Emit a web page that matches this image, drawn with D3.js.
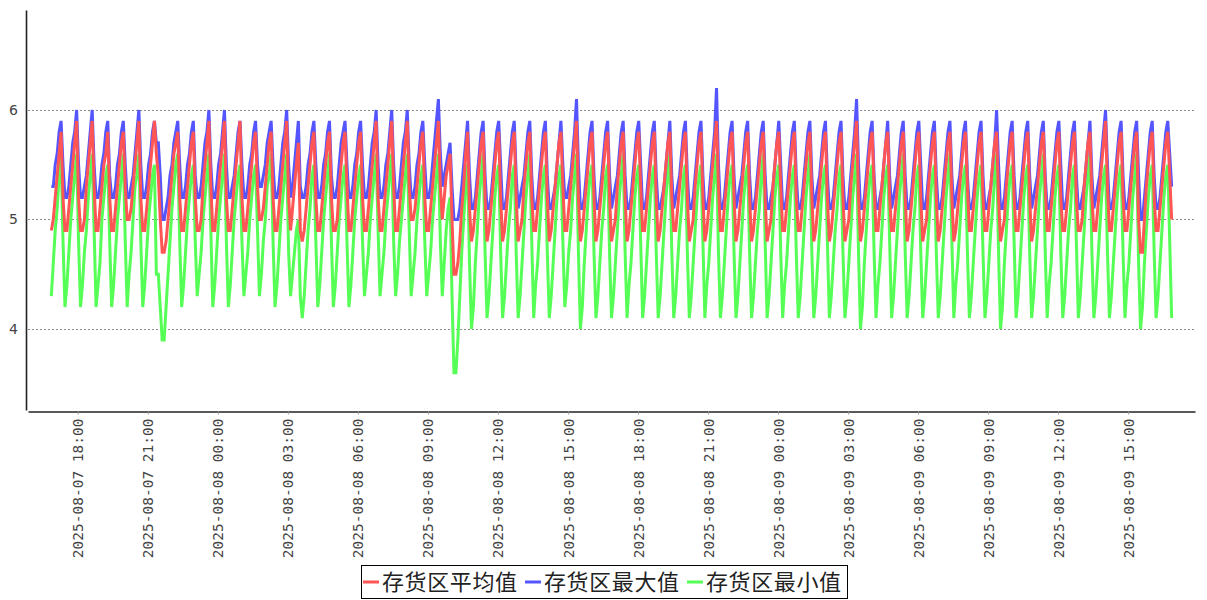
<!DOCTYPE html>
<html>
<head>
<meta charset="utf-8">
<script src="https://d3js.org/d3.v7.min.js"></script>
<style>
  body { margin: 0; background: #fff; }
</style>
</head>
<body>
<div id="chart"></div>
<script>
// samples every 5 minutes starting here
var startTime = "2025-08-07 16:52";
var stepMinutes = 5;

var seriesNames = ["存货区平均值", "存货区最大值", "存货区最小值"];
var seriesColors = ["#ff5555", "#5555ff", "#55ff55"];

var xTickLabels = [
  "2025-08-07 18:00", "2025-08-07 21:00", "2025-08-08 00:00", "2025-08-08 03:00",
  "2025-08-08 06:00", "2025-08-08 09:00", "2025-08-08 12:00", "2025-08-08 15:00",
  "2025-08-08 18:00", "2025-08-08 21:00", "2025-08-09 00:00", "2025-08-09 03:00",
  "2025-08-09 06:00", "2025-08-09 09:00", "2025-08-09 12:00", "2025-08-09 15:00"
];
var yTickValues = [4, 5, 6];

// 存货区平均值 (red)
var avgValues = [
  4.9, 5.0, 5.2, 5.4, 5.6,
  5.8, 5.2, 4.9, 4.9, 5.1, 5.3, 5.5, 5.7,
  5.9, 5.2, 4.9, 4.9, 5.0, 5.3, 5.5, 5.7,
  5.9, 5.3, 4.9, 4.9, 5.1, 5.3, 5.5, 5.6,
  5.8, 5.2, 4.9, 4.9, 5.1, 5.3, 5.5, 5.7,
  5.8, 5.3, 5.0, 5.0, 5.1, 5.3, 5.5, 5.7,
  5.9, 5.2, 4.9, 4.9, 5.1, 5.3, 5.5, 5.7,
  5.9, 5.6, 5.4, 5.0, 4.7, 4.7, 4.8, 5.0, 5.2, 5.4, 5.6, 5.7,
  5.8, 5.2, 4.9, 4.9, 5.1, 5.3, 5.5, 5.7,
  5.8, 5.2, 4.9, 4.9, 5.0, 5.3, 5.5, 5.7,
  5.9, 5.3, 4.9, 4.9, 5.1, 5.3, 5.5, 5.7,
  5.9, 5.2, 4.9, 4.9, 5.1, 5.3, 5.5, 5.7,
  5.9, 5.2, 4.9, 4.9, 5.1, 5.3, 5.5, 5.7,
  5.8, 5.3, 5.0, 5.0, 5.1, 5.3, 5.5, 5.7,
  5.8, 5.2, 4.9, 4.9, 5.1, 5.3, 5.5, 5.7,
  5.9, 5.2, 4.9, 5.1, 5.3, 5.5, 5.7, 4.9, 4.8, 4.9, 5.1, 5.3, 5.5, 5.7,
  5.8, 5.2, 4.9, 4.9, 5.1, 5.3, 5.5, 5.7,
  5.8, 5.2, 4.9, 4.9, 5.0, 5.3, 5.5, 5.7,
  5.8, 5.3, 4.9, 4.9, 5.1, 5.3, 5.5, 5.7,
  5.8, 5.2, 4.9, 4.9, 5.1, 5.3, 5.5, 5.7,
  5.9, 5.2, 4.9, 4.9, 5.1, 5.3, 5.5, 5.7,
  5.9, 5.3, 4.9, 4.9, 5.1, 5.3, 5.5, 5.7,
  5.9, 5.3, 5.0, 5.0, 5.1, 5.3, 5.5, 5.7,
  5.8, 5.2, 4.9, 4.9, 5.1, 5.3, 5.5, 5.7,
  5.9, 5.3, 5.0, 5.2, 5.4, 5.5, 5.6, 5.0, 4.5, 4.5, 4.6, 4.8, 5.1, 5.3, 5.6,
  5.8, 5.1, 4.8, 4.9, 5.1, 5.3, 5.5, 5.7,
  5.8, 5.2, 4.8, 4.9, 5.1, 5.3, 5.5, 5.7,
  5.8, 5.2, 4.8, 4.9, 5.1, 5.3, 5.5, 5.7,
  5.8, 5.2, 4.8, 4.9, 5.0, 5.3, 5.5, 5.7,
  5.8, 5.2, 4.9, 4.9, 5.1, 5.3, 5.5, 5.7,
  5.8, 5.2, 4.8, 4.9, 5.1, 5.3, 5.5, 5.7,
  5.8, 5.3, 4.9, 4.9, 5.1, 5.3, 5.5, 5.7,
  5.9, 5.2, 4.8, 4.9, 5.1, 5.3, 5.5, 5.7,
  5.8, 5.2, 4.8, 4.9, 5.1, 5.3, 5.5, 5.7,
  5.8, 5.2, 4.8, 4.9, 5.0, 5.3, 5.5, 5.7,
  5.8, 5.2, 4.8, 4.9, 5.1, 5.3, 5.5, 5.7,
  5.8, 5.3, 4.9, 4.9, 5.1, 5.3, 5.5, 5.7,
  5.8, 5.2, 4.8, 4.9, 5.1, 5.3, 5.5, 5.7,
  5.8, 5.2, 4.9, 4.9, 5.1, 5.3, 5.5, 5.7,
  5.8, 5.2, 4.8, 4.9, 5.0, 5.3, 5.5, 5.7,
  5.8, 5.2, 4.8, 4.9, 5.1, 5.3, 5.5, 5.7,
  5.9, 5.3, 4.9, 4.9, 5.1, 5.3, 5.5, 5.7,
  5.8, 5.2, 4.8, 4.9, 5.1, 5.3, 5.5, 5.7,
  5.8, 5.2, 4.8, 4.9, 5.1, 5.3, 5.5, 5.7,
  5.8, 5.2, 4.8, 4.9, 5.0, 5.3, 5.5, 5.7,
  5.8, 5.3, 4.9, 4.9, 5.1, 5.3, 5.5, 5.7,
  5.8, 5.2, 4.9, 4.9, 5.1, 5.3, 5.5, 5.7,
  5.8, 5.2, 4.8, 4.9, 5.1, 5.3, 5.5, 5.7,
  5.8, 5.2, 4.8, 4.9, 5.1, 5.3, 5.5, 5.7,
  5.8, 5.2, 4.8, 4.9, 5.0, 5.3, 5.5, 5.7,
  5.9, 5.2, 4.8, 4.9, 5.1, 5.3, 5.5, 5.7,
  5.8, 5.3, 4.9, 4.9, 5.1, 5.3, 5.5, 5.7,
  5.8, 5.2, 4.9, 4.9, 5.1, 5.3, 5.5, 5.7,
  5.8, 5.2, 4.8, 4.9, 5.1, 5.3, 5.5, 5.7,
  5.8, 5.2, 4.8, 4.9, 5.0, 5.3, 5.5, 5.7,
  5.8, 5.2, 4.8, 4.9, 5.1, 5.3, 5.5, 5.7,
  5.8, 5.2, 4.8, 4.9, 5.1, 5.3, 5.5, 5.7,
  5.8, 5.3, 4.9, 4.9, 5.1, 5.3, 5.5, 5.7,
  5.8, 5.2, 4.9, 4.9, 5.1, 5.3, 5.5, 5.7,
  5.8, 5.2, 4.8, 4.9, 5.0, 5.3, 5.5, 5.7,
  5.8, 5.2, 4.9, 4.9, 5.1, 5.3, 5.5, 5.7,
  5.8, 5.2, 4.8, 4.9, 5.1, 5.3, 5.5, 5.7,
  5.8, 5.3, 4.9, 4.9, 5.1, 5.3, 5.5, 5.7,
  5.8, 5.2, 4.9, 4.9, 5.1, 5.3, 5.5, 5.7,
  5.8, 5.2, 4.9, 4.9, 5.0, 5.3, 5.5, 5.7,
  5.8, 5.2, 4.9, 4.9, 5.1, 5.3, 5.5, 5.7,
  5.9, 5.3, 4.9, 4.9, 5.1, 5.3, 5.5, 5.7,
  5.8, 5.2, 4.9, 4.9, 5.1, 5.3, 5.5, 5.7,
  5.8, 5.0, 4.7, 4.7, 5.0, 5.3, 5.5, 5.7,
  5.8, 5.2, 4.9, 4.9, 5.1, 5.3, 5.5, 5.7,
  5.8, 5.4, 5.0
];

// 存货区最大值 (blue)
var maxValues = [
  5.3, 5.3, 5.5, 5.6, 5.8,
  5.9, 5.5, 5.2, 5.2, 5.3, 5.5, 5.7, 5.8,
  6.0, 5.5, 5.2, 5.2, 5.3, 5.4, 5.6, 5.8,
  6.0, 5.5, 5.2, 5.2, 5.3, 5.5, 5.6, 5.8,
  5.9, 5.4, 5.2, 5.2, 5.3, 5.5, 5.6, 5.8,
  5.9, 5.5, 5.2, 5.2, 5.3, 5.4, 5.6, 5.8,
  6.0, 5.5, 5.2, 5.2, 5.3, 5.5, 5.6, 5.8,
  5.9, 5.7, 5.7, 5.4, 5.0, 5.0, 5.1, 5.2, 5.4, 5.5, 5.7, 5.8,
  5.9, 5.5, 5.2, 5.2, 5.3, 5.5, 5.6, 5.8,
  5.9, 5.4, 5.2, 5.2, 5.3, 5.5, 5.7, 5.8,
  6.0, 5.5, 5.2, 5.2, 5.3, 5.5, 5.6, 5.8,
  6.0, 5.5, 5.2, 5.2, 5.3, 5.4, 5.6, 5.8,
  5.9, 5.5, 5.2, 5.2, 5.3, 5.5, 5.6, 5.8,
  5.9, 5.5, 5.3, 5.3, 5.4, 5.5, 5.7, 5.8,
  5.9, 5.5, 5.2, 5.2, 5.3, 5.5, 5.7, 5.8,
  6.0, 5.5, 5.2, 5.3, 5.5, 5.7, 5.9, 5.3, 5.2, 5.2, 5.3, 5.5, 5.6, 5.8,
  5.9, 5.5, 5.2, 5.2, 5.3, 5.5, 5.6, 5.8,
  5.9, 5.4, 5.2, 5.2, 5.3, 5.5, 5.7, 5.8,
  5.9, 5.5, 5.2, 5.2, 5.3, 5.5, 5.6, 5.8,
  5.9, 5.5, 5.2, 5.2, 5.3, 5.5, 5.7, 5.8,
  6.0, 5.5, 5.2, 5.2, 5.3, 5.5, 5.6, 5.8,
  6.0, 5.5, 5.2, 5.2, 5.3, 5.5, 5.7, 5.8,
  6.0, 5.5, 5.2, 5.2, 5.3, 5.5, 5.6, 5.8,
  5.9, 5.5, 5.2, 5.2, 5.3, 5.5, 5.7, 5.9,
  6.1, 5.6, 5.3, 5.4, 5.5, 5.6, 5.7, 5.3, 5.0, 5.0, 5.0, 5.1, 5.3, 5.5, 5.7,
  5.9, 5.4, 5.1, 5.1, 5.2, 5.4, 5.6, 5.8,
  5.9, 5.4, 5.1, 5.1, 5.2, 5.4, 5.6, 5.8,
  5.9, 5.5, 5.1, 5.1, 5.2, 5.4, 5.6, 5.8,
  5.9, 5.4, 5.1, 5.2, 5.3, 5.4, 5.6, 5.8,
  5.9, 5.4, 5.1, 5.1, 5.2, 5.4, 5.6, 5.8,
  5.9, 5.4, 5.1, 5.1, 5.2, 5.3, 5.5, 5.7,
  5.9, 5.5, 5.2, 5.2, 5.3, 5.4, 5.6, 5.8,
  6.1, 5.5, 5.1, 5.1, 5.2, 5.4, 5.6, 5.8,
  5.9, 5.4, 5.1, 5.1, 5.2, 5.4, 5.6, 5.8,
  5.9, 5.4, 5.1, 5.2, 5.3, 5.4, 5.6, 5.8,
  5.9, 5.4, 5.1, 5.1, 5.2, 5.4, 5.6, 5.8,
  5.9, 5.5, 5.1, 5.1, 5.2, 5.4, 5.6, 5.8,
  5.9, 5.4, 5.1, 5.1, 5.2, 5.3, 5.5, 5.7,
  5.9, 5.4, 5.1, 5.2, 5.3, 5.4, 5.6, 5.8,
  5.9, 5.4, 5.1, 5.1, 5.2, 5.4, 5.6, 5.8,
  5.9, 5.4, 5.1, 5.1, 5.2, 5.4, 5.6, 5.8,
  6.2, 5.5, 5.1, 5.1, 5.2, 5.4, 5.6, 5.8,
  5.9, 5.4, 5.1, 5.2, 5.3, 5.4, 5.6, 5.8,
  5.9, 5.4, 5.1, 5.1, 5.2, 5.4, 5.6, 5.8,
  5.9, 5.4, 5.1, 5.1, 5.2, 5.3, 5.5, 5.7,
  5.9, 5.5, 5.1, 5.1, 5.2, 5.4, 5.6, 5.8,
  5.9, 5.4, 5.1, 5.1, 5.2, 5.4, 5.6, 5.8,
  5.9, 5.4, 5.1, 5.2, 5.3, 5.4, 5.6, 5.8,
  5.9, 5.4, 5.1, 5.1, 5.2, 5.4, 5.6, 5.8,
  5.9, 5.4, 5.1, 5.1, 5.2, 5.4, 5.6, 5.8,
  6.1, 5.5, 5.1, 5.1, 5.2, 5.4, 5.6, 5.8,
  5.9, 5.4, 5.1, 5.1, 5.2, 5.3, 5.5, 5.7,
  5.9, 5.4, 5.1, 5.2, 5.3, 5.4, 5.6, 5.8,
  5.9, 5.4, 5.1, 5.1, 5.2, 5.4, 5.6, 5.8,
  5.9, 5.5, 5.1, 5.1, 5.2, 5.4, 5.6, 5.8,
  5.9, 5.4, 5.1, 5.1, 5.2, 5.4, 5.6, 5.8,
  5.9, 5.4, 5.1, 5.2, 5.3, 5.4, 5.6, 5.8,
  5.9, 5.4, 5.1, 5.1, 5.2, 5.4, 5.6, 5.8,
  5.9, 5.4, 5.1, 5.1, 5.2, 5.3, 5.5, 5.7,
  6.0, 5.5, 5.1, 5.1, 5.2, 5.4, 5.6, 5.8,
  5.9, 5.4, 5.1, 5.1, 5.2, 5.4, 5.6, 5.8,
  5.9, 5.4, 5.1, 5.2, 5.3, 5.4, 5.6, 5.8,
  5.9, 5.4, 5.1, 5.1, 5.2, 5.4, 5.6, 5.8,
  5.9, 5.5, 5.1, 5.1, 5.2, 5.4, 5.6, 5.8,
  5.9, 5.4, 5.1, 5.1, 5.2, 5.3, 5.5, 5.7,
  5.9, 5.4, 5.1, 5.2, 5.3, 5.4, 5.6, 5.8,
  6.0, 5.5, 5.1, 5.1, 5.2, 5.4, 5.6, 5.8,
  5.9, 5.4, 5.1, 5.1, 5.2, 5.4, 5.6, 5.8,
  5.9, 5.4, 5.0, 5.0, 5.2, 5.4, 5.6, 5.8,
  5.9, 5.4, 5.1, 5.1, 5.2, 5.4, 5.6, 5.8,
  5.9, 5.6, 5.3
];

// 存货区最小值 (green)
var minValues = [
  4.3, 4.6, 4.9, 5.1, 5.4,
  5.6, 4.8, 4.2, 4.4, 4.7, 5.0, 5.2, 5.4,
  5.6, 4.8, 4.2, 4.4, 4.7, 4.9, 5.2, 5.4,
  5.6, 4.9, 4.2, 4.4, 4.6, 5.0, 5.2, 5.4,
  5.5, 4.8, 4.2, 4.4, 4.7, 5.0, 5.2, 5.4,
  5.6, 4.8, 4.2, 4.5, 4.7, 5.0, 5.3, 5.4,
  5.6, 4.8, 4.2, 4.4, 4.7, 5.0, 5.2, 5.4,
  5.5, 4.5, 4.5, 4.2, 3.9, 3.9, 4.2, 4.5, 4.8, 5.1, 5.3, 5.5,
  5.6, 4.8, 4.2, 4.4, 4.7, 5.0, 5.2, 5.4,
  5.5, 4.8, 4.3, 4.5, 4.7, 5.0, 5.2, 5.4,
  5.6, 4.9, 4.2, 4.4, 4.7, 5.0, 5.2, 5.4,
  5.6, 4.8, 4.2, 4.4, 4.7, 5.0, 5.2, 5.4,
  5.5, 4.8, 4.3, 4.5, 4.7, 5.0, 5.2, 5.4,
  5.5, 4.9, 4.3, 4.5, 4.8, 5.0, 5.3, 5.4,
  5.6, 4.8, 4.2, 4.4, 4.7, 5.0, 5.2, 5.4,
  5.6, 4.7, 4.3, 4.5, 4.7, 4.9, 5.0, 4.3, 4.1, 4.3, 4.6, 4.9, 5.1, 5.4,
  5.5, 4.8, 4.2, 4.4, 4.7, 5.0, 5.2, 5.4,
  5.6, 4.8, 4.2, 4.4, 4.7, 5.0, 5.2, 5.4,
  5.5, 4.8, 4.2, 4.4, 4.7, 5.0, 5.2, 5.4,
  5.5, 4.8, 4.3, 4.5, 4.7, 5.0, 5.2, 5.4,
  5.6, 4.9, 4.3, 4.5, 4.7, 5.0, 5.2, 5.4,
  5.6, 4.8, 4.3, 4.5, 4.8, 5.0, 5.2, 5.4,
  5.6, 4.9, 4.3, 4.5, 4.7, 5.0, 5.2, 5.4,
  5.5, 4.8, 4.3, 4.5, 4.7, 5.0, 5.2, 5.4,
  5.6, 4.8, 4.3, 4.6, 4.9, 5.1, 5.2, 4.3, 3.6, 3.6, 3.9, 4.3, 4.7, 5.0, 5.3,
  5.5, 4.6, 4.0, 4.2, 4.6, 4.9, 5.2, 5.4,
  5.6, 4.7, 4.1, 4.3, 4.6, 4.9, 5.2, 5.4,
  5.5, 4.7, 4.1, 4.3, 4.6, 4.9, 5.1, 5.4,
  5.5, 4.7, 4.1, 4.3, 4.6, 4.9, 5.2, 5.4,
  5.6, 4.8, 4.1, 4.4, 4.6, 4.9, 5.2, 5.4,
  5.5, 4.7, 4.1, 4.3, 4.6, 4.9, 5.2, 5.4,
  5.5, 4.8, 4.2, 4.4, 4.7, 4.9, 5.2, 5.4,
  5.6, 4.7, 4.0, 4.2, 4.6, 4.9, 5.2, 5.4,
  5.5, 4.7, 4.1, 4.3, 4.6, 4.9, 5.1, 5.4,
  5.5, 4.7, 4.1, 4.3, 4.6, 4.9, 5.2, 5.4,
  5.6, 4.7, 4.1, 4.4, 4.6, 4.9, 5.2, 5.4,
  5.5, 4.8, 4.1, 4.3, 4.6, 4.9, 5.2, 5.4,
  5.5, 4.7, 4.1, 4.3, 4.6, 4.9, 5.2, 5.4,
  5.6, 4.7, 4.1, 4.3, 4.6, 4.9, 5.1, 5.4,
  5.5, 4.7, 4.1, 4.3, 4.6, 4.9, 5.2, 5.4,
  5.5, 4.8, 4.1, 4.4, 4.6, 4.9, 5.2, 5.4,
  5.6, 4.7, 4.1, 4.3, 4.6, 4.9, 5.2, 5.4,
  5.5, 4.7, 4.1, 4.3, 4.6, 4.9, 5.2, 5.4,
  5.5, 4.7, 4.1, 4.3, 4.6, 4.9, 5.1, 5.4,
  5.6, 4.8, 4.1, 4.3, 4.6, 4.9, 5.2, 5.4,
  5.5, 4.7, 4.1, 4.4, 4.6, 4.9, 5.2, 5.4,
  5.5, 4.7, 4.1, 4.3, 4.6, 4.9, 5.2, 5.4,
  5.6, 4.7, 4.1, 4.3, 4.6, 4.9, 5.2, 5.4,
  5.5, 4.8, 4.1, 4.3, 4.6, 4.9, 5.1, 5.4,
  5.5, 4.7, 4.1, 4.3, 4.6, 4.9, 5.2, 5.4,
  5.6, 4.7, 4.0, 4.2, 4.6, 4.9, 5.2, 5.4,
  5.5, 4.7, 4.1, 4.4, 4.6, 4.9, 5.2, 5.4,
  5.5, 4.8, 4.1, 4.3, 4.6, 4.9, 5.2, 5.4,
  5.6, 4.7, 4.1, 4.3, 4.6, 4.9, 5.1, 5.4,
  5.5, 4.7, 4.1, 4.3, 4.6, 4.9, 5.2, 5.4,
  5.5, 4.7, 4.1, 4.3, 4.6, 4.9, 5.2, 5.4,
  5.6, 4.8, 4.1, 4.4, 4.6, 4.9, 5.2, 5.4,
  5.5, 4.7, 4.1, 4.3, 4.6, 4.9, 5.2, 5.4,
  5.5, 4.7, 4.1, 4.3, 4.6, 4.9, 5.1, 5.4,
  5.6, 4.7, 4.0, 4.2, 4.6, 4.9, 5.2, 5.4,
  5.5, 4.8, 4.1, 4.3, 4.6, 4.9, 5.2, 5.4,
  5.5, 4.7, 4.1, 4.3, 4.6, 4.9, 5.2, 5.4,
  5.6, 4.7, 4.1, 4.4, 4.6, 4.9, 5.2, 5.4,
  5.5, 4.7, 4.1, 4.3, 4.6, 4.9, 5.1, 5.4,
  5.5, 4.8, 4.1, 4.3, 4.6, 4.9, 5.2, 5.4,
  5.6, 4.7, 4.1, 4.3, 4.6, 4.9, 5.2, 5.4,
  5.5, 4.7, 4.1, 4.3, 4.6, 4.9, 5.2, 5.4,
  5.5, 4.7, 4.1, 4.4, 4.6, 4.9, 5.2, 5.4,
  5.6, 4.6, 4.0, 4.2, 4.6, 4.9, 5.2, 5.4,
  5.5, 4.7, 4.1, 4.3, 4.6, 4.9, 5.2, 5.4,
  5.5, 4.8, 4.1
];

var svgWidth = 1207;
var svgHeight = 600;
var plot = { left: 28, right: 1195, top: 10, bottom: 410 };

var parseTime = d3.timeParse("%Y-%m-%d %H:%M");
var formatTime = d3.timeFormat("%Y-%m-%d %H:%M");
var t0 = parseTime(startTime);
var times = avgValues.map(function(d, i) {
  return d3.timeMinute.offset(t0, i * stepMinutes);
});

var svg = d3.select("#chart")
  .append("svg")
  .attr("width", svgWidth)
  .attr("height", svgHeight);

svg.append("rect")
  .attr("width", svgWidth)
  .attr("height", svgHeight)
  .attr("fill", "#fff");

// scales (axis range padded one hour each side of the data)
var xScale = d3.scaleTime()
  .domain([d3.timeMinute.offset(times[0], -60), d3.timeMinute.offset(times[times.length - 1], 60)])
  .range([plot.left, plot.right]);

var yScale = d3.scaleLinear()
  .domain([3.26, 6.913])
  .range([plot.bottom, plot.top]);

// dotted grid lines
svg.append("g")
  .selectAll("line")
  .data(yTickValues)
  .enter()
  .append("line")
  .attr("x1", plot.left)
  .attr("x2", plot.right)
  .attr("y1", d => Math.round(yScale(d)) + 0.5)
  .attr("y2", d => Math.round(yScale(d)) + 0.5)
  .attr("stroke", "#8a8a8a")
  .attr("stroke-width", 1)
  .attr("stroke-dasharray", "2,2");

// y axis
var yAxis = d3.axisLeft(yScale)
  .tickValues(yTickValues)
  .tickFormat(d3.format("d"))
  .tickSize(0)
  .tickPadding(8);

var yAxisGroup = svg.append("g")
  .attr("transform", "translate(26,0)")
  .call(yAxis);
yAxisGroup.select(".domain")
  .attr("stroke", "#222")
  .attr("stroke-width", 1.6);
yAxisGroup.selectAll("text")
  .attr("fill", "#444")
  .style("font-family", "DejaVu Sans, sans-serif")
  .style("font-size", "14px");

// x axis
var xAxis = d3.axisBottom(xScale)
  .tickValues(xTickLabels.map(parseTime))
  .tickFormat(formatTime)
  .tickSize(3)
  .tickSizeOuter(0);

var xAxisGroup = svg.append("g")
  .attr("transform", "translate(0,411.5)")
  .call(xAxis);
xAxisGroup.select(".domain")
  .attr("stroke", "#222")
  .attr("stroke-width", 1.6);
xAxisGroup.selectAll(".tick line")
  .attr("stroke", "#999");
xAxisGroup.selectAll("text")
  .attr("transform", "rotate(-90)")
  .attr("text-anchor", "end")
  .attr("x", -7)
  .attr("y", 0)
  .attr("dy", "0.35em")
  .attr("fill", "#444")
  .style("font-family", "DejaVu Sans Mono, monospace")
  .style("font-size", "14.5px");

// lines, last series underneath
var seriesValues = [avgValues, maxValues, minValues];
var line = d3.line()
  .x((d, i) => xScale(times[i]))
  .y(d => yScale(d));

var linesGroup = svg.append("g");
[2, 1, 0].forEach(function(s) {
  linesGroup.append("path")
    .datum(seriesValues[s])
    .attr("d", line)
    .attr("fill", "none")
    .attr("stroke", seriesColors[s])
    .attr("stroke-width", 3);
});

// legend
var legend = svg.append("g");
legend.append("rect")
  .attr("x", 361.5)
  .attr("y", 565.5)
  .attr("width", 486)
  .attr("height", 33)
  .attr("fill", "#fff")
  .attr("stroke", "#000")
  .attr("stroke-width", 1);

var legendItems = legend.selectAll("g.item")
  .data(seriesNames)
  .enter()
  .append("g")
  .attr("class", "item")
  .attr("transform", (d, i) => `translate(${363 + i * 162},582)`);

legendItems.append("line")
  .attr("x1", 0)
  .attr("x2", 16)
  .attr("stroke", (d, i) => seriesColors[i])
  .attr("stroke-width", 3);

legendItems.append("text")
  .attr("x", 19)
  .attr("dy", "0.36em")
  .attr("textLength", 135)
  .attr("fill", "#222")
  .style("font-family", "Noto Sans CJK SC, sans-serif")
  .style("font-size", "22px")
  .text(d => d);
</script>
</body>
</html>
